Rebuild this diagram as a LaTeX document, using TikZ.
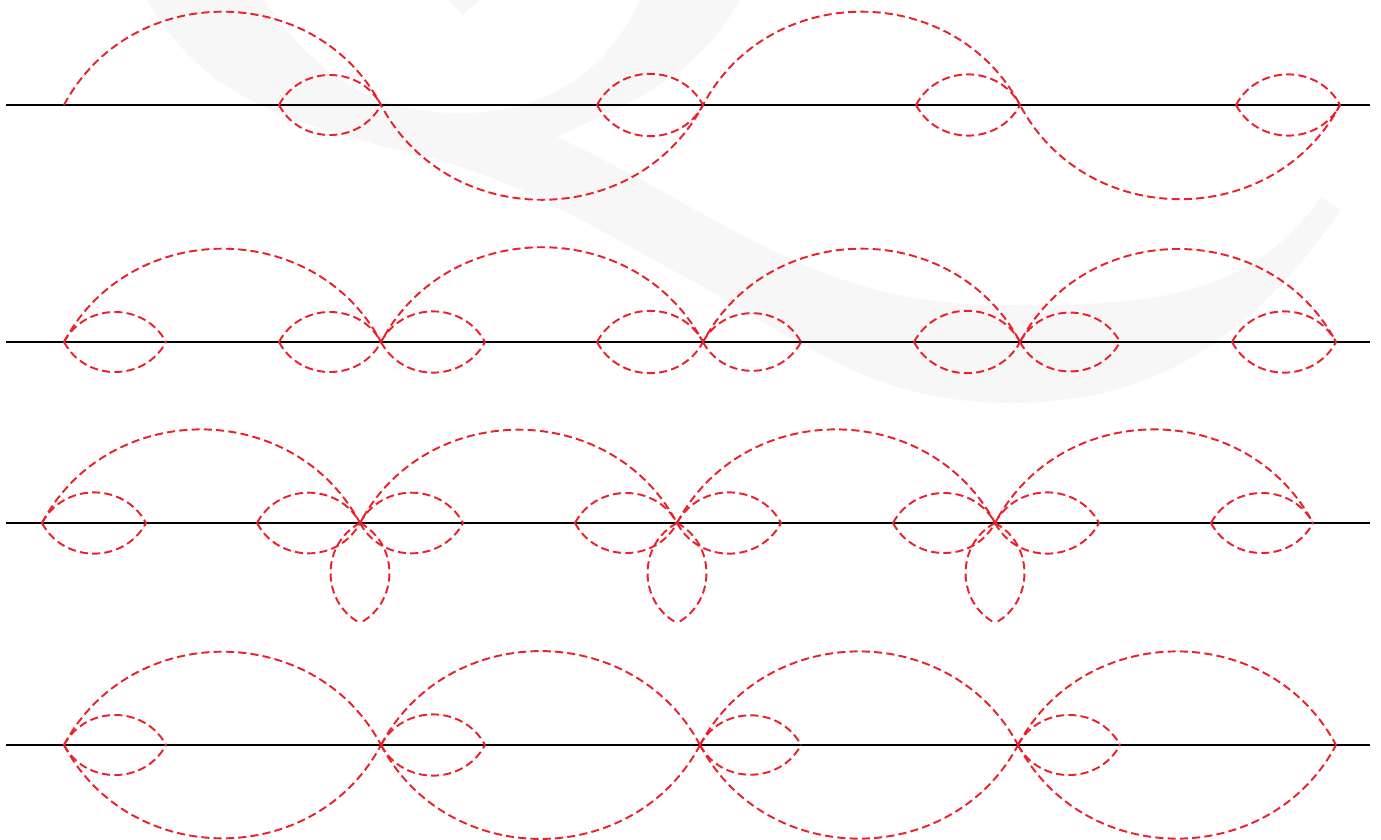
\documentclass[tikz,border=0pt]{standalone}
\definecolor{lkred}{RGB}{236,32,42}
\definecolor{wmgray}{RGB}{247,247,247}
\newcommand{\lensAB}[2]{\draw[lk] (#1) to[arcU] (#2); \draw[lk] (#1) to[arcD] (#2);}
\begin{document}
\begin{tikzpicture}[x=1cm, y=1cm,
  ax/.style={draw=black, line width=0.45pt},
  lk/.style={draw=lkred, line width=0.55pt, dash pattern=on 2.3pt off 1.2pt},
  arcU/.style={out=62, in=118, looseness=1.14},
  arcD/.style={out=-62, in=-118, looseness=1.14},
  arcL/.style={out=-152, in=152, looseness=1.14},
  arcR/.style={out=-28, in=28, looseness=1.14},
  wm/.style={fill=wmgray, draw=none}]
\useasboundingbox (0,0) rectangle (13.81,8.39);
% faint background mark
\fill[wm] (1.47,8.39) to[out=-60, in=165] (3.86,6.92) to[out=-12, in=152] (7.00,5.54)
  to[out=-30, in=180] (10.11,4.36) to[out=0, in=-125] (13.41,6.29) -- (13.21,6.42)
  to[out=235, in=0] (10.00,5.34) to[out=180, in=-25] (5.57,7.02)
  to[out=25, in=-120] (7.40,8.39) -- (6.40,8.39) to[out=-115, in=0] (4.60,7.26)
  to[out=180, in=-55] (2.63,8.39) -- cycle;
\fill[wm] (4.48,8.39) -- (4.79,8.39) -- (4.63,8.24) -- cycle;
% row 1
\coordinate (l1a) at (0.06,7.34); \coordinate (l1b) at (13.70,7.34);
\coordinate (p11) at (0.64,7.34); \coordinate (p12) at (3.81,7.34);
\coordinate (p13) at (7.03,7.34); \coordinate (p14) at (10.20,7.34);
\coordinate (p15) at (13.40,7.34);
\coordinate (q12) at (2.79,7.34); \coordinate (q13) at (5.97,7.34);
\coordinate (q14) at (9.16,7.34); \coordinate (q15) at (12.36,7.34);
\draw[ax] (l1a) -- (l1b);
\draw[lk] (p11) to[arcU] (p12) to[arcD] (p13) to[arcU] (p14) to[arcD] (p15);
\lensAB{q12}{p12} \lensAB{q13}{p13} \lensAB{q14}{p14} \lensAB{q15}{p15}
% row 2
\coordinate (l2a) at (0.06,4.97); \coordinate (l2b) at (13.70,4.97);
\coordinate (p21) at (0.64,4.97); \coordinate (p22) at (3.81,4.97);
\coordinate (p23) at (7.03,4.97); \coordinate (p24) at (10.20,4.97);
\coordinate (p25) at (13.36,4.97);
\coordinate (q22) at (2.79,4.97); \coordinate (q23) at (5.97,4.97);
\coordinate (q24) at (9.14,4.97); \coordinate (q25) at (12.32,4.97);
\coordinate (r21) at (1.66,4.97); \coordinate (r22) at (4.85,4.97);
\coordinate (r23) at (8.01,4.97); \coordinate (r24) at (11.20,4.97);
\draw[ax] (l2a) -- (l2b);
\draw[lk] (p21) to[arcU] (p22) to[arcU] (p23) to[arcU] (p24) to[arcU] (p25);
\lensAB{p21}{r21} \lensAB{q22}{p22} \lensAB{p22}{r22} \lensAB{q23}{p23}
\lensAB{p23}{r23} \lensAB{q24}{p24} \lensAB{p24}{r24} \lensAB{q25}{p25}
% row 3
\coordinate (l3a) at (0.06,3.16); \coordinate (l3b) at (13.70,3.16);
\coordinate (p31) at (0.42,3.16); \coordinate (p32) at (3.60,3.16);
\coordinate (p33) at (6.77,3.16); \coordinate (p34) at (9.95,3.16);
\coordinate (p35) at (13.13,3.16);
\coordinate (q32) at (2.57,3.16); \coordinate (q33) at (5.75,3.16);
\coordinate (q34) at (8.93,3.16); \coordinate (q35) at (12.11,3.16);
\coordinate (r31) at (1.46,3.16); \coordinate (r32) at (4.63,3.16);
\coordinate (r33) at (7.81,3.16); \coordinate (r34) at (10.99,3.16);
\coordinate (s32) at (3.60,2.16); \coordinate (s33) at (6.77,2.16);
\coordinate (s34) at (9.95,2.16);
\draw[ax] (l3a) -- (l3b);
\draw[lk] (p31) to[arcU] (p32) to[arcU] (p33) to[arcU] (p34) to[arcU] (p35);
\lensAB{p31}{r31} \lensAB{q32}{p32} \lensAB{p32}{r32} \lensAB{q33}{p33}
\lensAB{p33}{r33} \lensAB{q34}{p34} \lensAB{p34}{r34} \lensAB{q35}{p35}
\draw[lk] (p32) to[arcL] (s32); \draw[lk] (p32) to[arcR] (s32);
\draw[lk] (p33) to[arcL] (s33); \draw[lk] (p33) to[arcR] (s33);
\draw[lk] (p34) to[arcL] (s34); \draw[lk] (p34) to[arcR] (s34);
% row 4
\coordinate (l4a) at (0.06,0.94); \coordinate (l4b) at (13.70,0.94);
\coordinate (p41) at (0.64,0.94); \coordinate (p42) at (3.81,0.94);
\coordinate (p43) at (7.00,0.94); \coordinate (p44) at (10.18,0.94);
\coordinate (p45) at (13.36,0.94);
\coordinate (r41) at (1.66,0.94); \coordinate (r42) at (4.85,0.94);
\coordinate (r43) at (8.01,0.94); \coordinate (r44) at (11.20,0.94);
\draw[ax] (l4a) -- (l4b);
\lensAB{p41}{p42} \lensAB{p42}{p43} \lensAB{p43}{p44} \lensAB{p44}{p45}
\lensAB{p41}{r41} \lensAB{p42}{r42} \lensAB{p43}{r43} \lensAB{p44}{r44}
\end{tikzpicture}
\end{document}
